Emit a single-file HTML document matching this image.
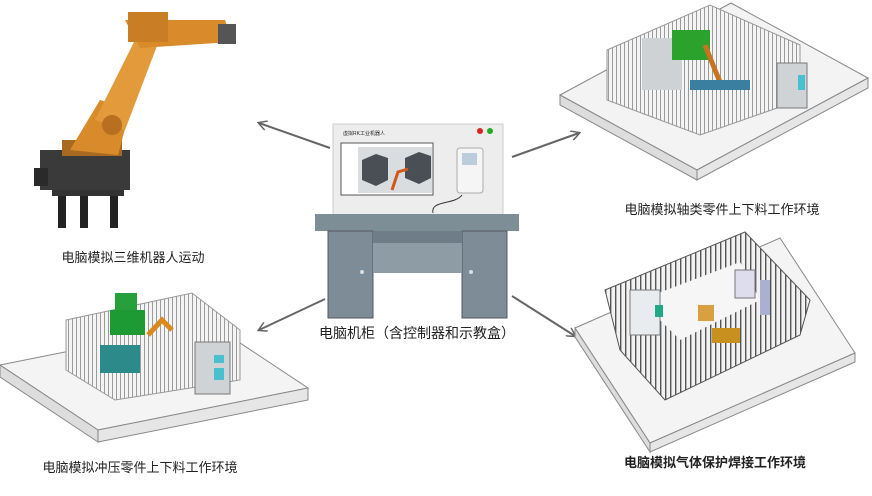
<!DOCTYPE html>
<html><head><meta charset="utf-8"><style>
html,body{margin:0;padding:0;background:#fff;}
svg{display:block}
text{font-family:"Liberation Sans","Noto Sans CJK SC",sans-serif;font-size:13px;fill:#222}
</style></head><body>
<svg width="872" height="496" viewBox="0 0 872 496" xmlns="http://www.w3.org/2000/svg">
<defs>
<pattern id="fence" width="4" height="10" patternUnits="userSpaceOnUse"><rect width="4" height="10" fill="#f4f4f4"/><rect width="1" height="10" fill="#9a9a9a"/></pattern>
<pattern id="fenceD" width="5" height="10" patternUnits="userSpaceOnUse"><rect width="5" height="10" fill="#f2f2f2"/><rect width="1.4" height="10" fill="#555"/></pattern>
<marker id="ah" markerWidth="10" markerHeight="10" refX="8" refY="5" orient="auto" markerUnits="userSpaceOnUse"><path d="M0,0 L9,5 L0,10" fill="none" stroke="#666" stroke-width="1.5"/></marker>
</defs>

<g stroke="#666" stroke-width="2" fill="none" marker-end="url(#ah)">
<line x1="330" y1="148" x2="259" y2="123"/>
<line x1="512" y1="157" x2="579" y2="133"/>
<line x1="325" y1="299" x2="259" y2="330"/>
<line x1="512" y1="296" x2="575" y2="336"/>
</g>

<g>
<rect x="58" y="190" width="8" height="38" fill="#222"/>
<rect x="110" y="190" width="8" height="38" fill="#222"/>
<rect x="80" y="192" width="8" height="36" fill="#222"/>
<rect x="52" y="188" width="72" height="8" fill="#333"/>
<rect x="40" y="150" width="90" height="40" fill="#3a3a3a"/>
<rect x="34" y="168" width="14" height="18" fill="#2a2a2a"/>
<rect x="62" y="140" width="60" height="16" fill="#a86a20"/>
<path d="M70,150 L100,100 L130,110 L118,155 Z" fill="#d98a2b"/>
<path d="M95,120 L140,30 L160,38 L125,130 Z" fill="#e39a3a"/>
<path d="M125,20 L225,20 L232,42 L140,48 Z" fill="#d98a2b"/>
<rect x="128" y="12" width="40" height="30" fill="#c97d25"/>
<rect x="218" y="24" width="18" height="20" fill="#555"/>
<circle cx="112" cy="125" r="10" fill="#b87020"/>
</g>
<text x="133" y="262" text-anchor="middle">电脑模拟三维机器人运动</text>

<g>
<rect x="333" y="124" width="170" height="92" fill="#ededed" stroke="#ccc"/>
<text x="343" y="135" style="font-size:5px">虚拟RK工业机器人</text>
<circle cx="480" cy="131" r="3" fill="#d22"/><circle cx="490" cy="131" r="3" fill="#2a2"/>
<rect x="341" y="143" width="92" height="52" fill="#fff" stroke="#555"/>
<rect x="358" y="147" width="74" height="46" fill="#d9dde0"/>
<path d="M362,160 l14,-6 l12,4 v22 l-12,6 l-14,-6z" fill="#4a4f55"/>
<path d="M405,158 l14,-6 l12,4 v22 l-12,6 l-14,-6z" fill="#4a4f55"/>
<path d="M392,190 l6,-18 l10,-3" stroke="#d0581a" stroke-width="3" fill="none"/>
<rect x="457" y="148" width="26" height="45" rx="3" fill="#f5f5f5" stroke="#aaa"/>
<rect x="462" y="153" width="15" height="12" fill="#bcd"/>
<path d="M462,195 C455,205 430,200 433,213" stroke="#333" fill="none"/>
<rect x="315" y="214" width="204" height="17" fill="#7e8e96"/>
<rect x="328" y="231" width="45" height="87" fill="#7d8c96" stroke="#556"/>
<rect x="462" y="231" width="45" height="87" fill="#7d8c96" stroke="#556"/>
<rect x="373" y="231" width="89" height="12" fill="#6e7d87"/>
<rect x="373" y="243" width="89" height="30" fill="#8e9ca5"/>
<circle cx="362" cy="272" r="2" fill="#ddd"/><circle cx="471" cy="272" r="2" fill="#ddd"/>
</g>
<text x="417" y="338" text-anchor="middle" style="font-size:14px">电脑机柜（含控制器和示教盒）</text>

<g>
<polygon points="560,95 731,3 868,78 697,170" fill="#f3f3f3" stroke="#888"/>
<polygon points="560,95 697,170 697,180 560,105" fill="#ddd" stroke="#888"/>
<polygon points="697,170 868,78 868,88 697,180" fill="#e6e6e6" stroke="#888"/>
<polygon points="607,50 710,5 800,45 800,100 700,135 607,100" fill="url(#fence)" stroke="#999"/>
<rect x="642" y="38" width="40" height="52" fill="#cfd2d4"/>
<rect x="672" y="30" width="38" height="30" fill="#2ba22b"/>
<path d="M705,45 l10,25 l5,12" stroke="#c8731f" stroke-width="5" fill="none"/>
<rect x="690" y="80" width="60" height="10" fill="#3a7fa0"/>
<rect x="777" y="63" width="30" height="45" fill="#cfd3d5" stroke="#777"/>
<rect x="798" y="75" width="7" height="15" fill="#49c0d0"/>
</g>
<text x="722" y="214" text-anchor="middle">电脑模拟轴类零件上下料工作环境</text>

<g>
<polygon points="0,365 210,323 308,388 98,430" fill="#f4f4f4" stroke="#888"/>
<polygon points="0,365 98,430 98,442 0,377" fill="#ddd" stroke="#888"/>
<polygon points="98,430 308,388 308,400 98,442" fill="#e6e6e6" stroke="#888"/>
<polygon points="66,320 192,293 240,330 240,380 115,400 66,370" fill="url(#fence)" stroke="#999"/>
<rect x="115" y="293" width="22" height="18" fill="#25a03a"/>
<rect x="110" y="310" width="35" height="25" fill="#1e9a35"/>
<rect x="100" y="345" width="40" height="28" fill="#2c8a8a"/>
<path d="M148,335 L162,320 L172,330" stroke="#d88a20" stroke-width="5" fill="none"/>
<rect x="195" y="342" width="35" height="52" fill="#cfd3d5" stroke="#777"/>
<rect x="214" y="355" width="10" height="8" fill="#49c0d0"/>
<rect x="214" y="368" width="10" height="12" fill="#49c0d0"/>
</g>
<text x="140" y="472" text-anchor="middle">电脑模拟冲压零件上下料工作环境</text>

<g>
<polygon points="575,328 780,238 855,353 650,443" fill="#f4f4f4" stroke="#888"/>
<polygon points="575,328 650,443 650,452 575,337" fill="#ddd" stroke="#888"/>
<polygon points="650,443 855,353 855,362 650,452" fill="#e6e6e6" stroke="#888"/>
<polygon points="605,290 745,232 810,300 800,335 665,400 620,350" fill="url(#fenceD)" stroke="#555"/>
<polygon points="640,300 740,262 760,300 680,340" fill="#f6f6f6"/>
<rect x="630" y="290" width="30" height="45" fill="#e8ecef" stroke="#777"/>
<rect x="655" y="305" width="8" height="12" fill="#2a8"/>
<rect x="735" y="270" width="20" height="28" fill="#dde" stroke="#777"/>
<rect x="760" y="280" width="10" height="35" fill="#aab0d0"/>
<rect x="712" y="328" width="28" height="15" fill="#c8901f"/>
<rect x="698" y="305" width="16" height="16" fill="#d8a040"/>
</g>
<text x="715" y="467" text-anchor="middle" style="font-weight:bold">电脑模拟气体保护焊接工作环境</text>
</svg>
</body></html>
